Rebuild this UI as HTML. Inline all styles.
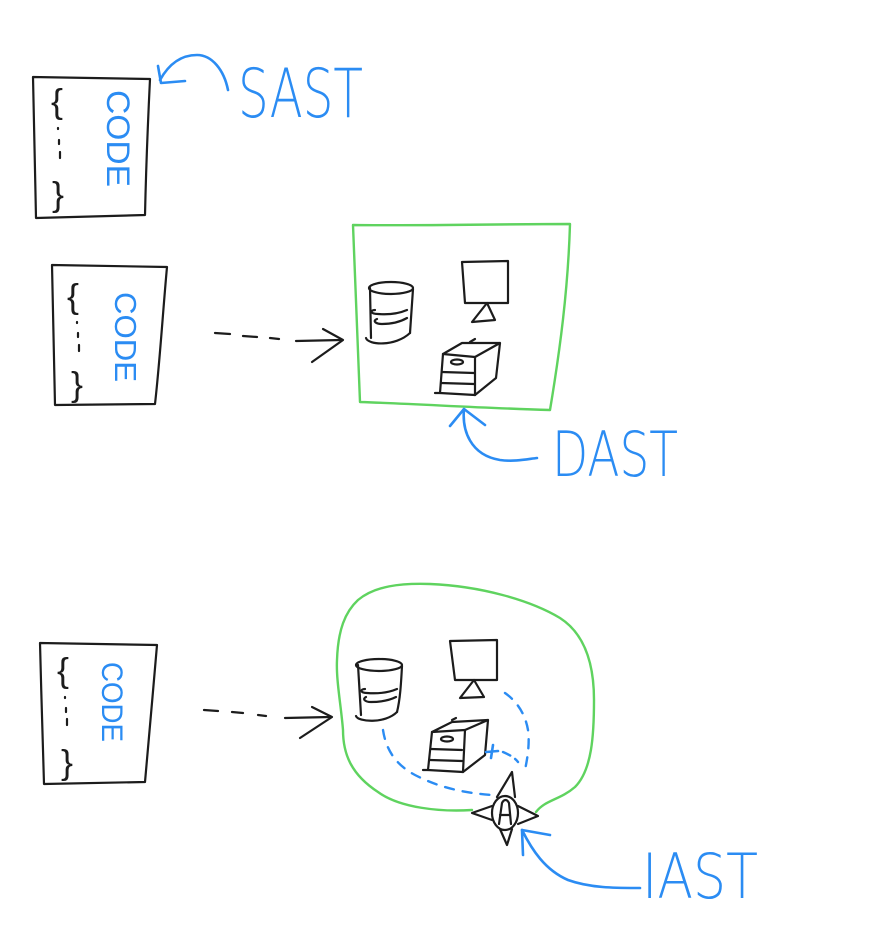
<!DOCTYPE html>
<html>
<head>
<meta charset="utf-8">
<style>
html,body{margin:0;padding:0;background:#fff;}
svg{display:block;}
.k{fill:none;stroke:#1c1c1c;stroke-width:2.2;stroke-linecap:round;stroke-linejoin:round;}
.b{fill:none;stroke:#2b8cf3;stroke-width:2.6;stroke-linecap:round;stroke-linejoin:round;}
.bd{fill:none;stroke:#2b8cf3;stroke-width:2.4;stroke-linecap:round;stroke-dasharray:9 9;}
.g{fill:none;stroke:#5fd35f;stroke-width:2.4;stroke-linecap:round;stroke-linejoin:round;}
.t{fill:#2b8cf3;font-family:"DejaVu Sans","Liberation Sans",sans-serif;font-weight:200;}
.c{fill:#2b8cf3;font-family:"Liberation Sans",sans-serif;font-weight:normal;}
.br{fill:#1c1c1c;font-family:"Liberation Sans",sans-serif;font-weight:normal;}
</style>
</head>
<body>
<svg width="873" height="950" viewBox="0 0 873 950" xmlns="http://www.w3.org/2000/svg">
<!-- Code box 1 -->
<path class="k" d="M33,77 L150,79 C148,120 146,170 145,215 L36,218 C35,170 34,120 33,77 Z"/>
<text class="br" x="51" y="113" font-size="34" textLength="12" lengthAdjust="spacingAndGlyphs">{</text>
<path class="k" d="M58,128 l0,1 M59,140 l0,4 M60,152 l0,6"/>
<text class="br" x="52" y="206" font-size="34" textLength="12" lengthAdjust="spacingAndGlyphs">}</text>
<text class="c" transform="translate(107,90) rotate(90)" font-size="32" textLength="97" lengthAdjust="spacingAndGlyphs">CODE</text>

<!-- SAST arrow -->
<path class="b" d="M228,90 C224,70 212,55 197,55 C183,55 170,62 160,80"/>
<path class="b" d="M158,66 L161,83 L185,81"/>
<text class="t" x="238" y="117" font-size="68" textLength="125" lengthAdjust="spacingAndGlyphs">SAST</text>

<!-- Code box 2 -->
<path class="k" d="M52,265 L167,267 C163,310 160,360 155,404 L55,405 C54,360 53,310 52,265 Z"/>
<text class="br" x="67" y="308" font-size="34" textLength="12" lengthAdjust="spacingAndGlyphs">{</text>
<path class="k" d="M77,322 l0,1 M78,333 l0,4 M79,345 l0,6"/>
<text class="br" x="71" y="396" font-size="34" textLength="12" lengthAdjust="spacingAndGlyphs">}</text>
<text class="c" transform="translate(115,292) rotate(90)" font-size="31" textLength="90" lengthAdjust="spacingAndGlyphs">CODE</text>

<!-- dashed arrow 2 -->
<path class="k" d="M215,333 L230,334 M243,336 L257,337 M270,338 L279,339 M296,341 L341,340"/>
<path class="k" d="M323,329 L343,340 L312,362"/>

<!-- DAST box -->
<path class="g" d="M353,225 C420,226 500,224 570,224 C568,290 560,350 550,410 C480,408 420,404 360,402 C358,340 355,280 353,225 Z"/>
<!-- cylinder 1 -->
<ellipse class="k" cx="391" cy="288" rx="22" ry="6"/>
<path class="k" d="M370,288 L371,338 M413,289 C412,305 411,320 410,333"/>
<path class="k" d="M366,338 C368,345 395,347 410,333"/>
<path class="k" d="M375,310 C370,310 370,314 378,314 C390,315 400,313 407,310"/>
<path class="k" d="M377,319 C372,321 376,324 382,324 C392,324 400,322 407,318"/>
<!-- monitor 1 -->
<path class="k" d="M462,262 L508,261 L508,303 L465,303 Z"/>
<path class="k" d="M487,303 L472,322 L495,320 Z"/>
<!-- server 1 -->
<path class="k" d="M443,354 L475,357 L475,395 L440,393 Z"/>
<path class="k" d="M443,354 L462,343 L500,343 L496,378 L475,395 M475,357 L500,343"/>
<path class="k" d="M470,342 L475,339"/>
<ellipse class="k" cx="457" cy="362" rx="6" ry="2.5"/>
<path class="k" d="M442,372 L474,373 M441,383 L474,384 M435,393 L440,393"/>

<!-- DAST arrow -->
<path class="b" d="M464,409 C462,430 470,455 500,460 C515,462 528,459 537,458"/>
<path class="b" d="M450,426 L464,409 L485,425"/>
<text class="t" x="552" y="476" font-size="62" textLength="126" lengthAdjust="spacingAndGlyphs">DAST</text>

<!-- Code box 3 -->
<path class="k" d="M40,643 L157,645 C153,690 149,740 145,782 L44,784 C43,740 41,690 40,643 Z"/>
<text class="br" x="57" y="682" font-size="34" textLength="12" lengthAdjust="spacingAndGlyphs">{</text>
<path class="k" d="M65,697 l0,1 M66,708 l0,4 M67,719 l0,6"/>
<text class="br" x="61" y="774" font-size="34" textLength="12" lengthAdjust="spacingAndGlyphs">}</text>
<text class="c" transform="translate(102,662) rotate(90)" font-size="30" textLength="80" lengthAdjust="spacingAndGlyphs">CODE</text>

<!-- dashed arrow 3 -->
<path class="k" d="M204,710 L218,711 M232,712 L243,713 M258,715 L266,716 M285,718 L330,717"/>
<path class="k" d="M312,707 L332,717 L300,738"/>

<!-- IAST blob -->
<path class="g" d="M472,810 C440,812 400,808 378,792 C352,775 343,755 343,730 C341,705 336,680 337,660 C338,630 345,612 358,600 C375,586 400,583 430,584 C480,586 530,600 560,618 C588,636 594,670 594,700 C594,735 592,770 575,787 C560,800 545,800 536,812"/>
<!-- cylinder 2 -->
<ellipse class="k" cx="379" cy="665" rx="23" ry="6"/>
<path class="k" d="M358,665 L361,715 M402,666 C401,685 400,700 397,712"/>
<path class="k" d="M356,716 C358,722 385,724 397,712"/>
<path class="k" d="M365,689 C360,689 360,693 367,693 C380,694 390,692 397,689"/>
<path class="k" d="M366,697 C362,699 365,702 371,702 C382,702 390,700 396,697"/>
<!-- monitor 2 -->
<path class="k" d="M450,641 L497,640 L497,680 L455,680 Z"/>
<path class="k" d="M474,680 L460,698 L484,697 Z"/>
<!-- server 2 -->
<path class="k" d="M432,732 L465,730 L463,772 L428,770 Z"/>
<path class="k" d="M432,732 L452,722 L488,720 L485,755 L463,772 M465,730 L488,720"/>
<path class="k" d="M452,720 L456,718"/>
<ellipse class="k" cx="447" cy="739" rx="6" ry="2.5"/>
<path class="k" d="M431,749 L462,750 M430,760 L462,761 M423,770 L428,770"/>
<!-- blue dashed paths -->
<path class="bd" d="M383,730 C386,750 396,765 415,775 C440,788 465,793 492,795"/>
<path class="bd" d="M505,693 C515,700 525,712 528,730 C530,745 527,760 525,770"/>
<path class="b" d="M493,745 L491,758 M486,752 L498,751"/>
<path class="bd" d="M503,752 C510,755 515,758 518,762" style="stroke-dasharray:8 6"/>
<!-- A agent -->
<path class="k" d="M497,797 L512,772 L515,797"/>
<path class="k" d="M500,829 L507,845 L512,829"/>
<path class="k" d="M492,806 L472,813 L492,820"/>
<path class="k" d="M518,806 L538,816 L518,824"/>
<ellipse class="k" cx="505" cy="813" rx="13" ry="17" fill="#fff"/>
<path class="k" d="M499,824 L502,803 C504,799 507,799 509,803 L511,824 M500,815 L510,815"/>

<!-- IAST arrow -->
<path class="b" d="M522,830 C532,850 545,870 568,880 C590,888 615,888 640,888"/>
<path class="b" d="M550,835 L522,830 L523,855"/>
<text class="t" x="642" y="898" font-size="62" textLength="116" lengthAdjust="spacingAndGlyphs">IAST</text>
</svg>
</body>
</html>
